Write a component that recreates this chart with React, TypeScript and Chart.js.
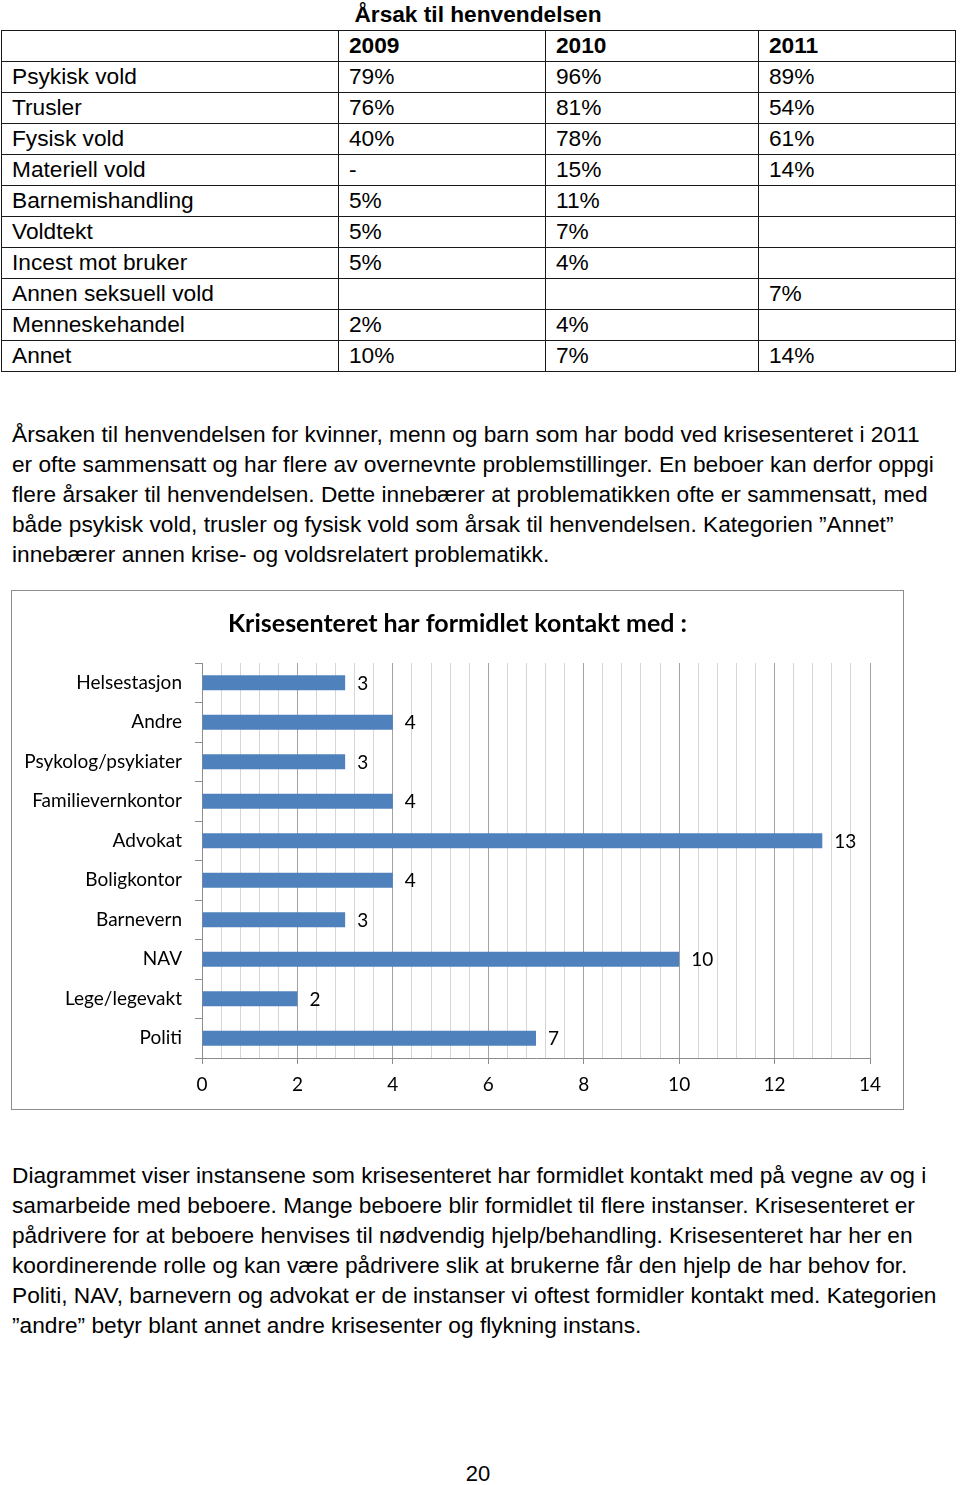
import React, { useEffect, useRef } from "react";
import { Chart, registerables } from "chart.js";

Chart.register(...registerables);

// ---------- Table data ----------
const tableTitle = "Årsak til henvendelsen";
const tableYears = ["2009", "2010", "2011"];
const tableRows = [
  "Psykisk vold",
  "Trusler",
  "Fysisk vold",
  "Materiell vold",
  "Barnemishandling",
  "Voldtekt",
  "Incest mot bruker",
  "Annen seksuell vold",
  "Menneskehandel",
  "Annet",
];
const values2009 = ["79%", "76%", "40%", "-", "5%", "5%", "5%", "", "2%", "10%"];
const values2010 = ["96%", "81%", "78%", "15%", "11%", "7%", "4%", "", "4%", "7%"];
const values2011 = ["89%", "54%", "61%", "14%", "", "", "", "7%", "", "14%"];

// ---------- Text ----------
const paragraph1 = [
  "Årsaken til henvendelsen for kvinner, menn og barn som har bodd ved krisesenteret i 2011",
  "er ofte sammensatt og har flere av overnevnte problemstillinger. En beboer kan derfor oppgi",
  "flere årsaker til henvendelsen. Dette innebærer at problematikken ofte er sammensatt, med",
  "både psykisk vold, trusler og fysisk vold som årsak til henvendelsen. Kategorien ”Annet”",
  "innebærer annen krise- og voldsrelatert problematikk.",
];
const paragraph2 = [
  "Diagrammet viser instansene som krisesenteret har formidlet kontakt med på vegne av og i",
  "samarbeide med beboere. Mange beboere blir formidlet til flere instanser. Krisesenteret er",
  "pådrivere for at beboere henvises til nødvendig hjelp/behandling. Krisesenteret har her en",
  "koordinerende rolle og kan være pådrivere slik at brukerne får den hjelp de har behov for.",
  "Politi, NAV, barnevern og advokat er de instanser vi oftest formidler kontakt med. Kategorien",
  "”andre” betyr blant annet andre krisesenter og flykning instans.",
];
const pageNumber = "20";

// ---------- Chart data ----------
const chartTitle = "Krisesenteret har formidlet kontakt med :";
const categories = [
  "Helsestasjon",
  "Andre",
  "Psykolog/psykiater",
  "Familievernkontor",
  "Advokat",
  "Boligkontor",
  "Barnevern",
  "NAV",
  "Lege/legevakt",
  "Politi",
];
const counts = [3, 4, 3, 4, 13, 4, 3, 10, 2, 7];
const axisMin = 0;
const axisMax = 14;
const majorStep = 2;
const minorStep = 0.4;

const CHART_FONT = "Lato";
const LABEL_SIZE = 19;
const TEXT_FONT = "'Liberation Sans', Arial, sans-serif";
const TEXT_SIZE = 22.7;

const isMajor = (v: number) =>
  v !== undefined && Math.abs(v / majorStep - Math.round(v / majorStep)) < 1e-6;

const valueLabels = {
  id: "valueLabels",
  afterDatasetsDraw(chart: any) {
    const { ctx } = chart;
    const meta = chart.getDatasetMeta(0);
    ctx.save();
    ctx.font = `${LABEL_SIZE}px ${CHART_FONT}`;
    ctx.fillStyle = "#000";
    ctx.textAlign = "left";
    ctx.textBaseline = "middle";
    meta.data.forEach((bar: any, i: number) => {
      const { x, y } = bar.getProps(["x", "y"], true);
      ctx.fillText(String(chart.data.datasets[0].data[i]), x + 12, y + 1);
    });
    ctx.restore();
  },
};

function BarChart() {
  const ref = useRef<HTMLCanvasElement | null>(null);
  useEffect(() => {
    if (!ref.current) return;
    const chart = new Chart(ref.current, {
      type: "bar",
      data: {
        labels: categories,
        datasets: [
          {
            data: counts,
            backgroundColor: "#4F81BD",
            borderWidth: 0,
            barPercentage: 0.385,
            categoryPercentage: 1,
          },
        ],
      },
      options: {
        indexAxis: "y",
        responsive: false,
        animation: false,
        devicePixelRatio: 1,
        layout: { padding: 0 },
        plugins: {
          legend: { display: false },
          tooltip: { enabled: false },
          title: {
            display: true,
            text: chartTitle,
            color: "#000",
            font: { family: CHART_FONT, size: 25, weight: "bold", lineHeight: 1.2 },
            padding: { top: 17.5, bottom: 24.5 },
          },
        },
        scales: {
          x: {
            type: "linear",
            min: axisMin,
            max: axisMax,
            afterBuildTicks: (scale: any) => {
              const ticks: { value: number }[] = [];
              const n = Math.round((axisMax - axisMin) / minorStep);
              for (let i = 0; i <= n; i++) {
                ticks.push({ value: Math.round((axisMin + i * minorStep) * 1000) / 1000 });
              }
              scale.ticks = ticks;
            },
            afterFit: (scale: any) => {
              scale.height = 51;
            },
            grid: {
              color: (c: any) => (isMajor(c.tick?.value) ? "#A3A3A3" : "#D6D6D6"),
              tickColor: (c: any) => (isMajor(c.tick?.value) ? "#8C8C8C" : "rgba(0,0,0,0)"),
              tickLength: 6,
              lineWidth: 1,
            },
            border: { display: true, color: "#8C8C8C" },
            ticks: {
              autoSkip: false,
              maxRotation: 0,
              padding: 9,
              color: "#000",
              font: { family: CHART_FONT, size: LABEL_SIZE },
              callback: (v: any) => (isMajor(Number(v)) ? String(v) : ""),
            },
          },
          y: {
            afterFit: (scale: any) => {
              scale.width = 190;
            },
            grid: {
              drawOnChartArea: false,
              drawTicks: true,
              tickLength: 7,
              color: "#8C8C8C",
              offset: true,
            },
            border: { display: true, color: "#8C8C8C" },
            ticks: {
              padding: 13,
              color: "#000",
              font: { family: CHART_FONT, size: LABEL_SIZE },
            },
          },
          yRight: {
            type: "category",
            position: "right",
            labels: categories,
            grid: { display: false },
            border: { display: false },
            ticks: { display: false },
            afterFit: (scale: any) => {
              scale.width = 33;
            },
          },
        },
      } as any,
      plugins: [valueLabels],
    });
    return () => chart.destroy();
  }, []);
  return (
    <canvas
      ref={ref}
      width={891}
      height={518}
      style={{ display: "block", width: 891, height: 518 }}
    />
  );
}

const textLine = (top: number, text: string, key: string) => (
  <div
    key={key}
    style={{
      position: "absolute",
      left: 12,
      top,
      whiteSpace: "nowrap",
      fontFamily: TEXT_FONT,
      fontSize: TEXT_SIZE,
      lineHeight: "30px",
      color: "#000",
    }}
  >
    {text}
  </div>
);

export default function App() {
  const colWidths = [337, 207, 213, 197];
  const rowsData = [
    ["", ...tableYears],
    ...tableRows.map((r, i) => [r, values2009[i], values2010[i], values2011[i]]),
  ];
  return (
    <div
      style={{
        position: "absolute",
        left: 0,
        top: 0,
        width: 960,
        height: 1485,
        background: "#fff",
        overflow: "hidden",
      }}
    >
      <div
        style={{
          position: "absolute",
          left: 0,
          top: -1.5,
          width: 956,
          textAlign: "center",
          fontFamily: TEXT_FONT,
          fontSize: TEXT_SIZE,
          fontWeight: "bold",
          lineHeight: "30px",
          color: "#000",
        }}
      >
        {tableTitle}
      </div>
      <div
        style={{
          position: "absolute",
          left: 1,
          top: 30,
          display: "grid",
          gridTemplateColumns: colWidths.map((w) => w + "px").join(" "),
          gridAutoRows: "31px",
          borderTop: "1px solid #1a1a1a",
          borderLeft: "1px solid #1a1a1a",
          fontFamily: TEXT_FONT,
          fontSize: TEXT_SIZE,
          color: "#000",
        }}
      >
        {rowsData.map((row, ri) =>
          row.map((cell, ci) => (
            <div
              key={ri + "-" + ci}
              style={{
                boxSizing: "border-box",
                borderRight: "1px solid #1a1a1a",
                borderBottom: "1px solid #1a1a1a",
                paddingLeft: 10,
                lineHeight: "29px",
                whiteSpace: "nowrap",
                fontWeight: ri === 0 ? "bold" : "normal",
              }}
            >
              {cell}
            </div>
          ))
        )}
      </div>

      {paragraph1.map((t, i) => textLine(418.5 + i * 30, t, "p1-" + i))}

      <div
        style={{
          position: "absolute",
          left: 11,
          top: 590,
          width: 893,
          height: 520,
          boxSizing: "border-box",
          border: "1px solid #8C8C8C",
          background: "#fff",
        }}
      >
        <BarChart />
      </div>

      {paragraph2.map((t, i) => textLine(1160 + i * 30, t, "p2-" + i))}

      <div
        style={{
          position: "absolute",
          left: 0,
          top: 1459,
          width: 956,
          textAlign: "center",
          fontFamily: TEXT_FONT,
          fontSize: 22,
          lineHeight: "30px",
          color: "#000",
        }}
      >
        {pageNumber}
      </div>
    </div>
  );
}
